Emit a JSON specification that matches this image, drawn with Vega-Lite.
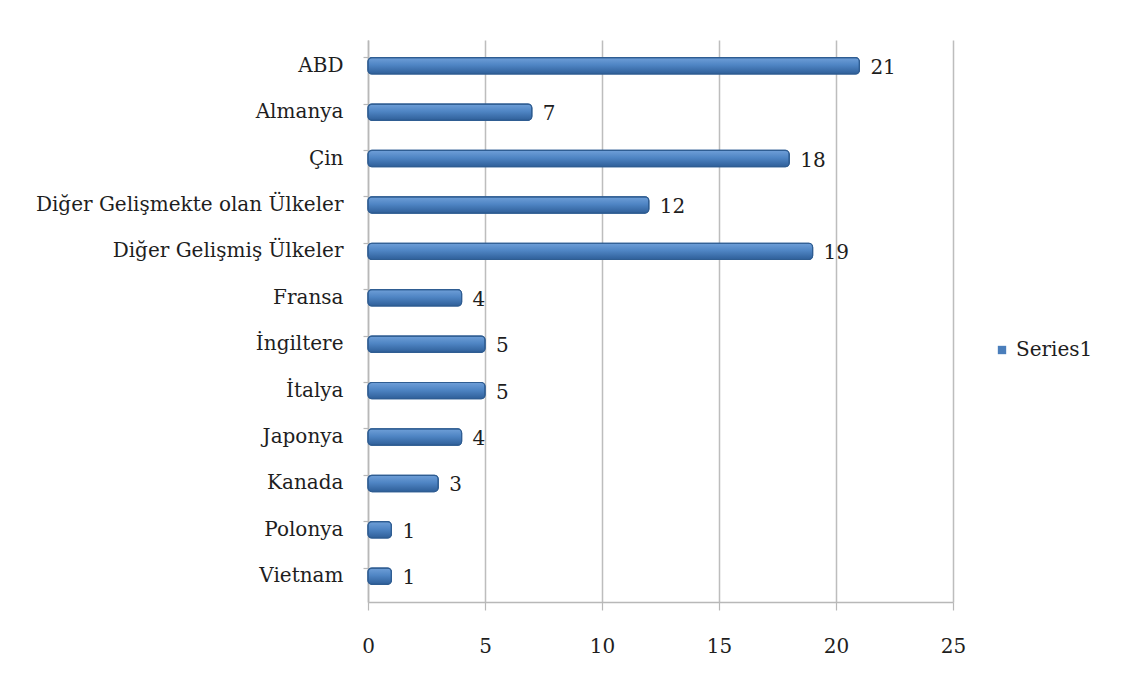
{
  "$schema": "https://vega.github.io/schema/vega-lite/v6.json",
  "width": 585,
  "height": 562,
  "padding": {"left": 8, "top": 40, "right": 10, "bottom": 10},
  "background": "white",
  "data": {
    "values": [
      {"country": "ABD", "value": 21, "series": "Series1"},
      {"country": "Almanya", "value": 7, "series": "Series1"},
      {"country": "Çin", "value": 18, "series": "Series1"},
      {"country": "Diğer Gelişmekte olan Ülkeler", "value": 12, "series": "Series1"},
      {"country": "Diğer Gelişmiş Ülkeler", "value": 19, "series": "Series1"},
      {"country": "Fransa", "value": 4, "series": "Series1"},
      {"country": "İngiltere", "value": 5, "series": "Series1"},
      {"country": "İtalya", "value": 5, "series": "Series1"},
      {"country": "Japonya", "value": 4, "series": "Series1"},
      {"country": "Kanada", "value": 3, "series": "Series1"},
      {"country": "Polonya", "value": 1, "series": "Series1"},
      {"country": "Vietnam", "value": 1, "series": "Series1"}
    ]
  },
  "encoding": {
    "y": {
      "field": "country",
      "type": "nominal",
      "sort": null,
      "title": null,
      "scale": {"paddingInner": 0.65, "paddingOuter": 0.38},
      "axis": {
        "labelFont": "DejaVu Serif",
        "labelFontSize": 20,
        "labelColor": "#1e1e1e",
        "labelPadding": 20,
        "labelLimit": 400,
        "domainColor": "#b8b8b8",
        "domainWidth": 1.5,
        "tickColor": "#b8b8b8",
        "tickSize": 5,
        "tickWidth": 1.2,
        "bandPosition": 0,
        "minExtent": 360,
        "maxExtent": 360
      }
    },
    "x": {
      "field": "value",
      "type": "quantitative",
      "title": null,
      "scale": {"domain": [0, 25], "nice": false},
      "axis": {
        "values": [0, 5, 10, 15, 20, 25],
        "labelFont": "DejaVu Serif",
        "labelFontSize": 20,
        "labelColor": "#1e1e1e",
        "labelPadding": 26,
        "labelFlush": false,
        "domainColor": "#b8b8b8",
        "domainWidth": 1.5,
        "tickColor": "#b8b8b8",
        "tickSize": 8,
        "tickWidth": 1.2,
        "grid": true,
        "gridColor": "#bdbdbd",
        "gridWidth": 1.5
      }
    }
  },
  "layer": [
    {
      "mark": {"type": "bar", "cornerRadius": 4, "stroke": "#2f5d92", "strokeWidth": 1.2},
      "encoding": {
        "color": {
          "field": "series",
          "type": "nominal",
          "scale": {"range": ["#4a7ebb"]},
          "legend": {
            "title": null,
            "orient": "none",
            "legendX": 624,
            "legendY": 300,
            "symbolType": "square",
            "symbolSize": 70,
            "symbolStrokeWidth": 0,
            "labelFont": "DejaVu Serif",
            "labelFontSize": 20,
            "labelColor": "#1e1e1e",
            "labelOffset": 4
          }
        }
      }
    },
    {
      "mark": {
        "type": "bar",
        "cornerRadius": 4,
        "stroke": "#2f5d92",
        "strokeWidth": 1.2,
        "fill": {
          "gradient": "linear",
          "x1": 0, "y1": 0, "x2": 0, "y2": 1,
          "stops": [
            {"offset": 0, "color": "#6f9fd8"},
            {"offset": 0.45, "color": "#4f85c4"},
            {"offset": 1, "color": "#2f5f99"}
          ]
        }
      }
    },
    {
      "mark": {
        "type": "text",
        "align": "left",
        "baseline": "middle",
        "dx": 11,
        "dy": 2,
        "font": "DejaVu Serif",
        "fontSize": 20,
        "color": "#1e1e1e"
      },
      "encoding": {"text": {"field": "value", "type": "quantitative"}}
    }
  ],
  "config": {"view": {"stroke": null}}
}
